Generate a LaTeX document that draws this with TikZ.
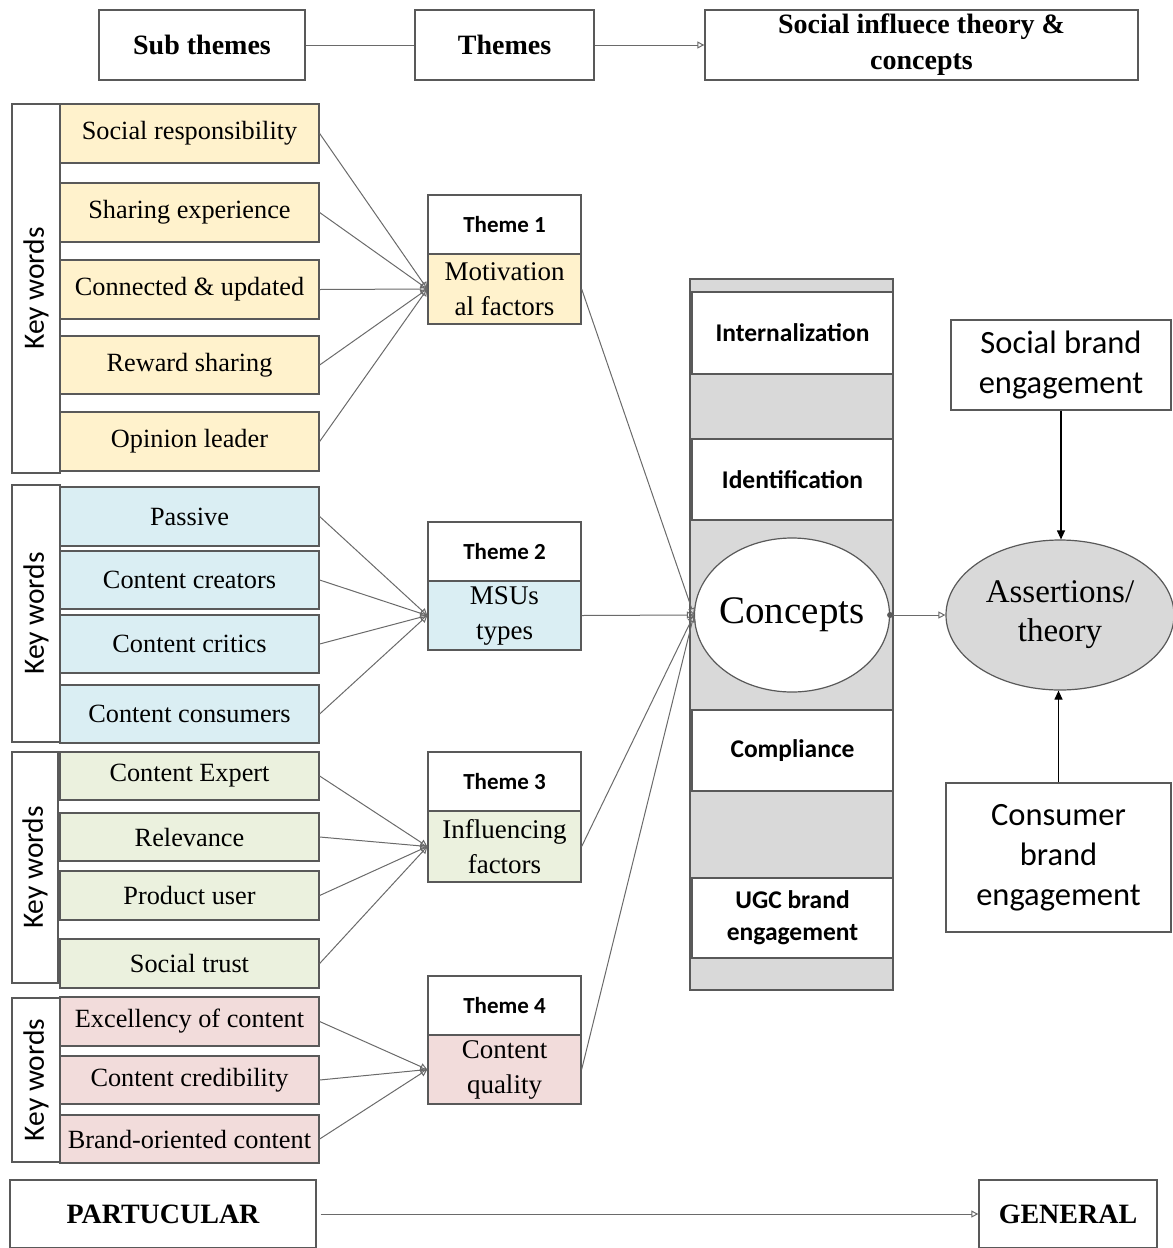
\documentclass[tikz,border=0pt]{standalone}
\usepackage{fontspec}
\setmainfont{Liberation Serif}
\newfontfamily\calfont{Carlito}
\usetikzlibrary{arrows.meta,shapes.geometric}
\definecolor{yel}{HTML}{FFF2CC}
\definecolor{blu}{HTML}{DAEEF3}
\definecolor{grn}{HTML}{EBF1DE}
\definecolor{pnk}{HTML}{F2DCDB}
\definecolor{gry}{HTML}{D9D9D9}
\definecolor{bord}{HTML}{595959}
\begin{document}
\begin{tikzpicture}[x=1pt,y=-1pt,
  box/.style={draw=bord,line width=1.3pt,inner sep=2pt,align=center},
  hdr/.style={box,fill=white,font=\fontsize{28}{36}\selectfont\bfseries},
  sub/.style={box,minimum width=259pt,font=\fontsize{26.3}{30}\selectfont},
  kw/.style={box,fill=white,rotate=90,minimum height=48pt,font=\calfont\fontsize{29.5}{30}\selectfont},
  thl/.style={box,fill=white,minimum width=153pt,minimum height=59pt,font=\calfont\bfseries\fontsize{23}{24}\selectfont},
  thc/.style={box,minimum width=153pt,minimum height=70pt,font=\fontsize{27}{35}\selectfont},
  cbox/.style={box,fill=white,minimum width=201pt,font=\calfont\bfseries\fontsize{25.5}{32}\selectfont},
  rbox/.style={box,fill=white,font=\calfont\fontsize{32.5}{40}\selectfont},
  con/.style={draw=bord!90,line width=1pt},
  oarr/.style={con,-{Triangle[open,length=7pt,width=7pt]}},
  farr/.style={draw=black,line width=1.2pt,-{Triangle[length=9pt,width=8pt]}}
]
\useasboundingbox (0,0) rectangle (1173,1248);

% header
\node[hdr,minimum width=206pt,minimum height=70pt] (hsub) at (202,45) {Sub themes};
\node[hdr,minimum width=179pt,minimum height=70pt] (hthm) at (504.5,45) {Themes};
\node[hdr,minimum width=433pt,minimum height=70pt] (hsoc) at (921.5,45) {Social influece theory \&\\concepts};
\draw[con] (hsub) -- (hthm);
\draw[oarr] (hthm) -- (hsoc);

% key words boxes
\node[kw,minimum width=369pt] (kw1) at (36,288.5) {Key words};
\node[kw,minimum width=257pt] (kw2) at (36,613.5) {Key words};
\node[kw,minimum width=231pt,minimum height=46pt] (kw3) at (35,867.5) {Key words};
\node[kw,minimum width=164pt] (kw4) at (36,1080) {Key words};

% group 1
\node[sub,fill=yel,minimum height=59pt] (a1) at (189.5,133.5) {Social responsibility};
\node[sub,fill=yel,minimum height=59pt] (a2) at (189.5,212.5) {Sharing experience};
\node[sub,fill=yel,minimum height=59pt] (a3) at (189.5,289.5) {Connected \& updated};
\node[sub,fill=yel,minimum height=58pt] (a4) at (189.5,365) {Reward sharing};
\node[sub,fill=yel,minimum height=59pt] (a5) at (189.5,441.5) {Opinion leader};
% group 2
\node[sub,fill=blu,minimum height=59pt] (b1) at (189.5,516.5) {Passive};
\node[sub,fill=blu,minimum height=58pt] (b2) at (189.5,580) {Content creators};
\node[sub,fill=blu,minimum height=58pt] (b3) at (189.5,644) {Content critics};
\node[sub,fill=blu,minimum height=58pt] (b4) at (189.5,714) {Content consumers};
% group 3
\node[sub,fill=grn,minimum height=48pt] (c1) at (189.5,776) {Content Expert};
\node[sub,fill=grn,minimum height=48pt] (c2) at (189.5,837) {Relevance};
\node[sub,fill=grn,minimum height=49pt] (c3) at (189.5,895.5) {Product user};
\node[sub,fill=grn,minimum height=49pt] (c4) at (189.5,963.5) {Social trust};
% group 4
\node[sub,fill=pnk,minimum height=49pt] (d1) at (189.5,1021.5) {Excellency of content};
\node[sub,fill=pnk,minimum height=48pt] (d2) at (189.5,1080) {Content credibility};
\node[sub,fill=pnk,minimum height=48pt] (d3) at (189.5,1139) {Brand-oriented content};

% themes
\node[thl] (t1l) at (504.5,224.5) {Theme 1};
\node[thc,fill=yel] (t1) at (504.5,289) {Motivation\\al factors};
\node[thl] (t2l) at (504.5,551.5) {Theme 2};
\node[thc,fill=blu,minimum height=69pt] (t2) at (504.5,615.5) {MSUs\\types};
\node[thl] (t3l) at (504.5,781.5) {Theme 3};
\node[thc,fill=grn,minimum height=71pt] (t3) at (504.5,846.5) {Influencing\\factors};
\node[thl] (t4l) at (504.5,1005.5) {Theme 4};
\node[thc,fill=pnk,minimum height=69pt] (t4) at (504.5,1069.5) {Content\\quality};

% concepts column
\node[box,fill=gry,minimum width=203pt,minimum height=711pt] (col) at (791.5,634.5) {};
\node[cbox,minimum height=82pt] (int) at (792.5,333) {Internalization};
\node[cbox,minimum height=81pt] (ide) at (792.5,479.5) {Identification};
\node[cbox,minimum height=81pt] (com) at (792.5,750.5) {Compliance};
\node[cbox,minimum height=80pt] (ugc) at (792.5,918) {UGC brand\\engagement};
\node[ellipse,draw=bord,line width=1.2pt,fill=white,inner sep=0pt,minimum width=195pt,minimum height=154pt,
  label={[font=\fontsize{39}{44}\selectfont]center:Concepts}] (cpt) at (792,615) {};

% right side
\node[ellipse,draw=bord,line width=1.2pt,fill=gry,inner sep=0pt,minimum width=228pt,minimum height=150pt,align=center,font=\fontsize{33}{39}\selectfont] (ast) at (1060,615) {Assertions/\\theory};
\node[rbox,minimum width=220pt,minimum height=90pt] (sbe) at (1061,365) {Social brand\\engagement};
\node[rbox,minimum width=225pt,minimum height=149pt] (cbe) at (1058.5,857.5) {Consumer\\brand\\engagement};

% bottom
\node[hdr,minimum width=306pt,minimum height=68pt] (par) at (163,1214) {PARTUCULAR};
\node[hdr,minimum width=178pt,minimum height=68pt] (gen) at (1068,1214) {GENERAL};

% connectors subthemes -> themes
\foreach \s in {a1,a2,a3,a4,a5} \draw[oarr] (\s.east) -- (t1.west);
\foreach \s in {b1,b2,b3,b4} \draw[oarr] (\s.east) -- (t2.west);
\foreach \s in {c1,c2,c3,c4} \draw[oarr] (\s.east) -- (t3.west);
\foreach \s in {d1,d2,d3} \draw[oarr] (\s.east) -- (t4.west);
% themes -> concepts
\foreach \t in {t1,t2,t3,t4} \draw[oarr] (\t.east) -- (cpt.west);
% concepts -> assertions
\draw[oarr] (cpt.east) -- (ast.west);
\fill[bord] (cpt.east) circle (3pt);
\draw[farr] (sbe.south) -- (sbe.south |- ast.north);
\draw[farr] (cbe.north) -- (cbe.north |- ast.south);
\draw[oarr,shorten <=4pt] (par.east) -- (gen.west);
\end{tikzpicture}
\end{document}
